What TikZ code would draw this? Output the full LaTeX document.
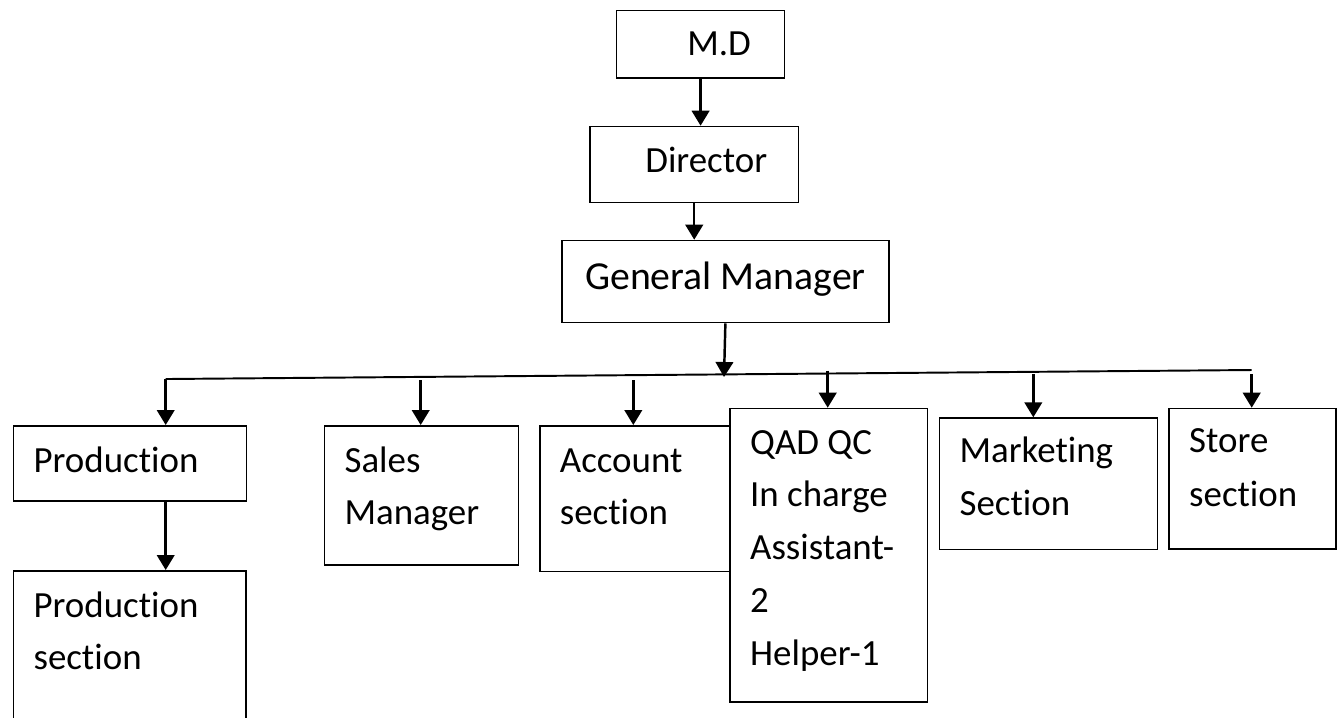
\documentclass[tikz,border=0pt]{standalone}
\usepackage{fontspec}
\setmainfont{Carlito}[Ligatures=NoCommon]
\usetikzlibrary{arrows.meta}

\begin{document}
\begin{tikzpicture}[x=0.1mm, y=-0.1mm,
    box/.style={draw, line width=0.5pt, anchor=north west, inner xsep=2mm, inner ysep=0pt,
      align=flush left, font=\fontsize{10.5}{14.8}\selectfont},
    topbox/.style={box, align=flush center},
    link/.style={line width=0.7pt, -{Triangle[length=1.5mm, width=1.75mm]}},
    bus/.style={line width=0.55pt}]
  \useasboundingbox (0,0) rectangle (1342,717);
  \clip (0,0) rectangle (1342,717);

  \node (md) [topbox, text width=12.8mm, text height=4.53mm, text depth=2.2mm] at (615.7,9.7) {\hspace*{1em}M.D};
  \node (director) [topbox, text width=16.87mm, text height=4.6mm, text depth=3mm] at (589,125.7) {\hspace*{0.65em}Director};
  \node (gm) [topbox, text width=28.7mm, text height=4.86mm, text depth=3.34mm,
    font=\fontsize{11.3}{14.8}\selectfont] at (561,239.7) {General Manager};

  \node (prod) [box, text width=19.3mm, text height=4.67mm, text depth=2.83mm] at (12.7,425) {Production};
  \node (prodsec) [box, text width=19.23mm, text height=4.67mm, text depth=16mm] at (12.7,570) {Production\\section};
  \node (sales) [box, text width=15.4mm, text height=4.67mm, text depth=9.23mm] at (323.7,425) {Sales\\Manager};
  \node (account) [box, text width=15.03mm, text height=4.67mm, text depth=9.9mm] at (539,425) {Account\\section};
  \node (qad) [box, fill=white, text width=15.74mm, text height=4.56mm, text depth=24.77mm,
    font=\fontsize{10.5}{15}\selectfont] at (729.3,407.7) {QAD QC\\In charge\\Assistant-\\2\\Helper-1};
  \node (marketing) [box, text width=17.8mm, text height=4.44mm, text depth=8.7mm,
    font=\fontsize{10.5}{15.1}\selectfont] at (938.7,417.3) {Marketing\\Section};
  \node (store) [box, text width=12.67mm, text height=4.4mm, text depth=9.66mm,
    font=\fontsize{10.5}{15.3}\selectfont] at (1168.3,407.7) {Store\\section};

  \coordinate (hub) at (724,377);
  \coordinate (busW) at (165.7,379);
  \coordinate (busE) at (1251.7,370);
  \coordinate (toSales) at (420.7,380);
  \coordinate (toAccount) at (633.3,380);
  \coordinate (toQad) at (827.7,370.7);
  \coordinate (toMarketing) at (1033.3,374);
  \coordinate (toStore) at (1251.7,374);

  \draw[link] (md.south) -- (md.south |- director.north);
  \draw[link] (director.south) -- (director.south |- gm.north);
  \draw[link] (gm.south) -- (hub);
  \draw[bus] (busW) -- (busE);
  \draw[link] (busW) -- (busW |- prod.north);
  \draw[link] (toSales) -- (toSales |- sales.north);
  \draw[link] (toAccount) -- (toAccount |- account.north);
  \draw[link] (toQad) -- (toQad |- qad.north);
  \draw[link] (toMarketing) -- (toMarketing |- marketing.north);
  \draw[link] (toStore) -- (toStore |- store.north);
  \draw[link] (busW |- prod.south) -- (busW |- prodsec.north);
\end{tikzpicture}
\end{document}
